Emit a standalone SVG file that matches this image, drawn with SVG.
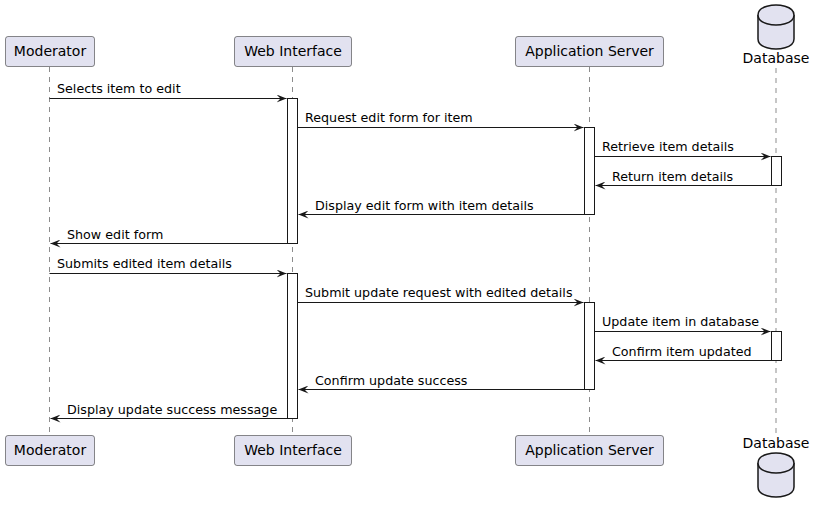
<svg xmlns="http://www.w3.org/2000/svg" width="813" height="514" viewBox="0 0 813 514">
<style>
.life{stroke:#181818;stroke-width:0.5;stroke-dasharray:5,5;fill:none}
.part{fill:#E2E2F0;stroke:#181818;stroke-width:0.5}
.db{fill:#E2E2F0;stroke:#181818;stroke-width:1.5}
.ptext{font-family:"DejaVu Sans",sans-serif;font-size:14px;fill:#000;text-anchor:middle}
.act{fill:#FFFFFF;stroke:#181818;stroke-width:1}
.msg{stroke:#181818;stroke-width:1;fill:none}
.mtext{font-family:"DejaVu Sans",sans-serif;font-size:12.7px;fill:#000}
</style>
<defs>
<marker id="ah" viewBox="0 0 10 8" refX="10" refY="4" markerWidth="10" markerHeight="8" markerUnits="userSpaceOnUse" orient="auto">
<polygon points="0,0 10,4 0,8 4,4" fill="#181818"/>
</marker>
</defs>
<rect width="813" height="514" fill="#FFFFFF"/>
<g id="lifelines">
<line class="life" x1="49.5" y1="67" x2="49.5" y2="435"/>
<line class="life" x1="292.5" y1="67" x2="292.5" y2="435"/>
<line class="life" x1="589.5" y1="67" x2="589.5" y2="435"/>
<line class="life" x1="776" y1="68" x2="776" y2="435"/>
</g>
<g id="moderator">
<rect class="part" x="5.5" y="36.5" width="89" height="30" rx="2.5"/>
<text class="ptext" x="50" y="56">Moderator</text>
<rect class="part" x="5.5" y="435.5" width="89" height="30" rx="2.5"/>
<text class="ptext" x="50" y="455">Moderator</text>
</g>
<g id="web-interface">
<rect class="part" x="234.5" y="36.5" width="117" height="30" rx="2.5"/>
<text class="ptext" x="293" y="56">Web Interface</text>
<rect class="part" x="234.5" y="435.5" width="117" height="30" rx="2.5"/>
<text class="ptext" x="293" y="455">Web Interface</text>
</g>
<g id="application-server">
<rect class="part" x="515.5" y="36.5" width="148" height="30" rx="2.5"/>
<text class="ptext" x="589.5" y="56">Application Server</text>
<rect class="part" x="515.5" y="435.5" width="148" height="30" rx="2.5"/>
<text class="ptext" x="589.5" y="455">Application Server</text>
</g>
<g id="database">
<path class="db" d="M758,15 C758,5 776,5 776,5 C776,5 794,5 794,15 L794,39 C794,49 776,49 776,49 C776,49 758,49 758,39 Z"/>
<path class="db" fill="none" d="M758,15 C758,25 776,25 776,25 C776,25 794,25 794,15"/>
<text class="ptext" x="776" y="63">Database</text>
<text class="ptext" x="776" y="448">Database</text>
<path class="db" d="M758,463 C758,453 776,453 776,453 C776,453 794,453 794,463 L794,487 C794,497 776,497 776,497 C776,497 758,497 758,487 Z"/>
<path class="db" fill="none" d="M758,463 C758,473 776,473 776,473 C776,473 794,473 794,463"/>
</g>
<g id="activations">
<rect class="act" x="287.5" y="98.5" width="10" height="145"/>
<rect class="act" x="584.5" y="127.5" width="10" height="87"/>
<rect class="act" x="771.5" y="156.5" width="10" height="29"/>
<rect class="act" x="287.5" y="273.5" width="10" height="145"/>
<rect class="act" x="584.5" y="302.5" width="10" height="87"/>
<rect class="act" x="771.5" y="331.5" width="10" height="29"/>
</g>
<g id="connectors">
<line class="msg" x1="49.5" y1="98.5" x2="286.5" y2="98.5" marker-end="url(#ah)"/>
<text class="mtext" x="57" y="93">Selects item to edit</text>
<line class="msg" x1="297.5" y1="127.5" x2="583.5" y2="127.5" marker-end="url(#ah)"/>
<text class="mtext" x="305" y="122">Request edit form for item</text>
<line class="msg" x1="594.5" y1="156.5" x2="770.5" y2="156.5" marker-end="url(#ah)"/>
<text class="mtext" x="602" y="151">Retrieve item details</text>
<line class="msg" x1="771.5" y1="185.5" x2="595.5" y2="185.5" marker-end="url(#ah)"/>
<text class="mtext" x="612" y="181">Return item details</text>
<line class="msg" x1="584.5" y1="214.5" x2="298.5" y2="214.5" marker-end="url(#ah)"/>
<text class="mtext" x="315" y="210">Display edit form with item details</text>
<line class="msg" x1="287.5" y1="243.5" x2="50.5" y2="243.5" marker-end="url(#ah)"/>
<text class="mtext" x="67" y="239">Show edit form</text>
<line class="msg" x1="49.5" y1="273.5" x2="286.5" y2="273.5" marker-end="url(#ah)"/>
<text class="mtext" x="57" y="268">Submits edited item details</text>
<line class="msg" x1="297.5" y1="302.5" x2="583.5" y2="302.5" marker-end="url(#ah)"/>
<text class="mtext" x="305" y="297">Submit update request with edited details</text>
<line class="msg" x1="594.5" y1="331.5" x2="770.5" y2="331.5" marker-end="url(#ah)"/>
<text class="mtext" x="602" y="326">Update item in database</text>
<line class="msg" x1="771.5" y1="360.5" x2="595.5" y2="360.5" marker-end="url(#ah)"/>
<text class="mtext" x="612" y="356">Confirm item updated</text>
<line class="msg" x1="584.5" y1="389.5" x2="298.5" y2="389.5" marker-end="url(#ah)"/>
<text class="mtext" x="315" y="385">Confirm update success</text>
<line class="msg" x1="287.5" y1="418.5" x2="50.5" y2="418.5" marker-end="url(#ah)"/>
<text class="mtext" x="67" y="414">Display update success message</text>
</g>
</svg>
